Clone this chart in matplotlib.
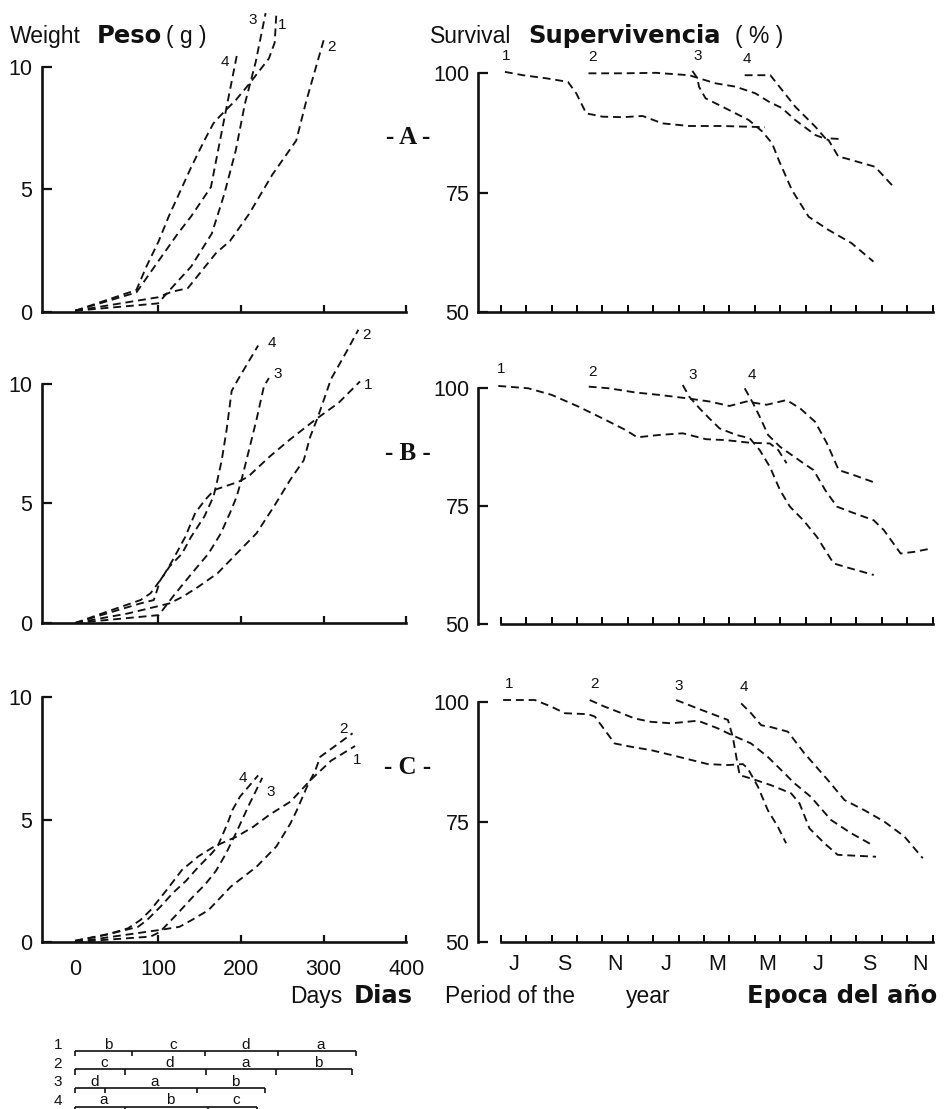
import matplotlib
matplotlib.use("Agg")
import matplotlib.pyplot as plt

plt.rcParams['font.family'] = ['Liberation Sans', 'DejaVu Sans']

# ---------------- data ----------------
# Weight (g) vs days, panels A, B, C, cohorts 1-4
wA_days = {1: [0, 74, 86, 101, 113, 140, 156, 167, 175, 194, 210, 234, 241, 243],
           2: [0, 100, 117, 136, 151, 170, 187, 210, 238, 267, 279, 301],
           3: [0, 100, 117, 140, 165, 180, 194, 205, 218, 230],
           4: [0, 74, 101, 124, 140, 164, 179, 196]}
wA_vals = {1: [0.05, 0.9, 1.85, 2.9, 3.9, 5.9, 7.0, 7.7, 8.0, 8.65, 9.3, 10.35, 11.0, 12.2],
           2: [0.05, 0.6, 0.83, 0.97, 1.6, 2.4, 2.9, 4.0, 5.6, 7.0, 8.6, 11.2],
           3: [0.05, 0.35, 1.0, 1.85, 3.2, 4.8, 6.6, 8.5, 10.2, 12.2],
           4: [0.05, 0.8, 2.1, 3.2, 3.9, 5.1, 7.7, 10.6]}

wB_days = {1: [0, 44, 79, 91, 106, 118, 133, 145, 157, 168, 197, 209, 235, 259, 290, 318, 344],
           2: [0, 64, 114, 130, 149, 172, 195, 219, 240, 260, 276, 284, 293, 309, 327, 342],
           3: [0, 101, 118, 141, 161, 176, 187, 195, 201, 209, 219, 228, 234],
           4: [0, 45, 79, 95, 103, 114, 129, 140, 156, 167, 171, 177, 183, 189, 197, 209, 221]}
wB_vals = {1: [0.0, 0.54, 0.96, 1.24, 1.94, 2.64, 3.6, 4.6, 5.15, 5.56, 5.9, 6.12, 6.96, 7.66, 8.5, 9.2, 10.1],
           2: [0.0, 0.4, 0.82, 1.1, 1.52, 2.08, 2.9, 3.75, 4.87, 6.0, 6.8, 7.8, 8.6, 10.2, 11.3, 12.26],
           3: [0.0, 0.33, 1.1, 2.08, 2.9, 3.75, 4.6, 5.28, 6.0, 7.1, 8.5, 9.9, 10.24],
           4: [0.0, 0.47, 0.82, 0.96, 1.8, 2.36, 2.9, 3.6, 4.45, 5.28, 5.85, 6.8, 8.1, 9.7, 10.2, 10.9, 11.6]}

wC_days = {1: [0, 37, 64, 79, 91, 110, 129, 149, 168, 195, 215, 235, 260, 284, 309, 338],
           2: [0, 102, 126, 141, 161, 188, 219, 243, 260, 268, 280, 290, 296, 318, 335],
           3: [0, 91, 102, 122, 141, 157, 170, 182, 195, 210, 226],
           4: [0, 45, 76, 87, 103, 118, 134, 149, 165, 172, 184, 190, 199, 221]}
wC_vals = {1: [0.05, 0.29, 0.56, 0.9, 1.3, 2.1, 2.94, 3.5, 3.9, 4.3, 4.7, 5.2, 5.73, 6.6, 7.4, 8.0],
           2: [0.0, 0.49, 0.62, 0.9, 1.3, 2.26, 3.07, 3.9, 4.84, 5.4, 6.34, 7.0, 7.56, 8.1, 8.52],
           3: [0.0, 0.22, 0.4, 1.1, 1.8, 2.35, 2.9, 3.6, 4.5, 5.6, 6.7],
           4: [0.05, 0.36, 0.62, 0.9, 1.44, 2.0, 2.5, 3.07, 3.62, 3.9, 4.84, 5.39, 5.93, 6.8]}

# Survival (%) vs month index (0 = start of July), panels A, B, C
sA_month = {1: [0.16, 0.87, 1.79, 2.64, 2.97, 3.36, 4.01, 4.8, 5.58, 6.36, 7.41, 8.7, 10.4],
            2: [3.45, 4.8, 6.1, 7.41, 8.45, 9.24, 10.02, 10.55, 11.07, 11.59, 12.38, 12.9, 13.29, 13.55, 14.73, 15.51],
            3: [7.54, 7.74, 7.8, 8.06, 8.72, 9.76, 10.29, 10.68, 10.94, 11.46, 12.12, 12.9, 13.8, 14.67],
            4: [9.6, 10.61, 11.07, 11.59, 12.38, 12.77, 13.42]}
sA_vals = {1: [100.3, 99.6, 98.95, 98.2, 95.8, 91.6, 90.9, 90.8, 91.05, 89.5, 88.95, 88.95, 88.7],
           2: [100, 100, 100.1, 99.6, 97.9, 97.2, 95.8, 94.05, 92.7, 90.2, 87.06, 86.0, 82.5, 82.2, 80.4, 75.9],
           3: [100.5, 98.95, 97.2, 94.75, 93.0, 90.2, 87.8, 85.3, 81.8, 75.5, 69.9, 67.15, 64.4, 60.5],
           4: [99.6, 99.6, 96.5, 93.0, 88.8, 86.4, 86.2]}

sB_month = {1: [-0.1, 1.08, 2.0, 3.06, 4.12, 4.91, 5.37, 6.23, 7.16, 8.08, 8.87, 9.8, 10.59, 10.92, 11.25],
            2: [3.46, 4.25, 5.31, 6.23, 7.29, 8.21, 9.0, 9.67, 10.46, 11.25, 11.78, 12.37, 12.84, 13.3, 13.89, 14.82],
            3: [7.16, 7.42, 7.82, 8.21, 8.61, 9.27, 9.8, 10.19, 10.59, 10.99, 11.38, 11.91, 12.44, 13.1, 13.76, 14.68],
            4: [9.6, 9.93, 10.19, 10.52, 10.99, 11.91, 12.31, 12.77, 13.23, 13.76, 14.68, 15.08, 15.74, 16.27, 16.93]}
sB_vals = {1: [100.5, 100, 98.6, 96.1, 93.3, 91.15, 89.6, 90.1, 90.45, 89.2, 89.0, 88.45, 88.3, 86.9, 84.1],
           2: [100.35, 100, 99.1, 98.6, 97.9, 97.2, 96.25, 97.2, 96.5, 97.5, 95.75, 92.9, 88.3, 82.65, 81.6, 79.8],
           3: [100.7, 98.2, 95.75, 93.6, 91.5, 90.1, 89.4, 86.9, 83.35, 78.4, 74.9, 72.0, 68.5, 62.85, 61.8, 60.4],
           4: [100, 96.8, 94.0, 90.1, 87.6, 84.1, 82.65, 78.4, 74.9, 73.8, 72.0, 69.9, 64.95, 65.3, 66.0]}

sC_month = {1: [0.09, 1.34, 1.99, 2.52, 3.43, 3.7, 4.09, 4.48, 5.14, 5.92, 6.71, 7.5, 8.15, 8.94, 9.53, 9.72, 10.12, 10.51, 10.9, 11.23],
            2: [3.5, 4.09, 4.61, 5.27, 5.92, 6.71, 7.76, 8.54, 9.07, 9.85, 10.51, 11.03, 11.56, 12.2, 13.0, 13.79, 14.64],
            3: [6.9, 7.89, 8.94, 9.13, 9.27, 9.4, 9.85, 10.64, 11.43, 11.76, 12.15, 12.74, 13.26, 14.77],
            4: [9.46, 9.85, 10.25, 10.64, 11.3, 11.95, 12.87, 13.53, 14.31, 15.1, 15.89, 16.61]}
sC_vals = {1: [100.35, 100.35, 98.96, 97.6, 97.4, 96.9, 94.1, 91.3, 90.6, 89.9, 88.9, 87.85, 87.0, 86.8, 87.0, 86.1, 82.3, 77.4, 74.0, 70.5],
           2: [100.35, 98.96, 97.9, 96.5, 95.8, 95.5, 96.04, 94.45, 93.1, 91.3, 88.5, 85.8, 83.0, 80.2, 75.35, 72.6, 70.1],
           3: [100.35, 98.3, 96.2, 92.7, 88.5, 84.7, 84.0, 82.6, 80.9, 78.8, 73.6, 70.5, 68.1, 67.7],
           4: [99.65, 97.6, 95.1, 94.7, 93.75, 89.25, 83.7, 79.5, 77.4, 75.0, 71.9, 67.4]}

panel_names = ['A', 'B', 'C']
weight_ticks = [0, 5, 10]
day_ticks = [0, 100, 200, 300, 400]
surv_ticks = [50, 75, 100]
month_labels = ['J', 'S', 'N', 'J', 'M', 'M', 'J', 'S', 'N']

# Season bars per cohort (boundaries in days) and season letters
bar_bounds = [[0, 69, 157, 245, 339], [0, 60, 158, 243, 334], [0, 36, 147, 229], [0, 60, 160, 220]]
bar_seasons = [['b', 'c', 'd', 'a'], ['c', 'd', 'a', 'b'], ['d', 'a', 'b'], ['a', 'b', 'c']]

# ---------------- layout ----------------
W, H = 944, 1109
fig = plt.figure(figsize=(W / 100, H / 100), dpi=100)


def ax_px(x0, y0, x1, y1):
    return fig.add_axes([x0 / W, 1 - y1 / H, (x1 - x0) / W, (y1 - y0) / H])


def ftext(x, y, s, **kw):
    return fig.text(x / W, 1 - y / H, s, **kw)


INK = '#111111'
DASH = (0, (4.2, 2.6))
TICKFS = 15.5
LABFS = 11
TFS = 16.5      # regular title text
BFS = 17.5      # heavy title words

left_rows = [(5.75, 312), (324, 623), (635.75, 942)]
right_rows = [(44.7, 311.7), (360, 624), (672.9, 941.7)]
mid_y = [137, 453, 767]

weight_data = [(wA_days, wA_vals), (wB_days, wB_vals), (wC_days, wC_vals)]
surv_data = [(sA_month, sA_vals), (sB_month, sB_vals), (sC_month, sC_vals)]

wlab_pos = [
    {4: (181, 10.2), 3: (214, 11.9), 1: (250, 11.7), 2: (310, 10.8)},
    {4: (237, 11.7), 3: (245, 10.4), 2: (352, 12.05), 1: (354, 9.96)},
    {2: (324, 8.7), 1: (341, 7.43), 4: (203, 6.68), 3: (236, 6.13)},
]
slab_pos = [
    {1: (0.05, 102.2), 2: (3.45, 101.9), 3: (7.6, 102.2), 4: (9.5, 101.6)},
    {1: (-0.15, 102.6), 2: (3.45, 102.0), 3: (7.4, 101.4), 4: (9.7, 101.4)},
    {1: (0.15, 102.2), 2: (3.5, 102.2), 3: (6.85, 101.9), 4: (9.4, 101.6)},
]


def base_style(ax):
    for s in ['top', 'right']:
        ax.spines[s].set_visible(False)
    for s in ['left', 'bottom']:
        ax.spines[s].set_linewidth(1.9)
        ax.spines[s].set_color(INK)
    ax.patch.set_alpha(0)


for r in range(3):
    # ---- weight panel ----
    y0, y1 = left_rows[r]
    ax = ax_px(42, y0, 406.4, y1)
    base_style(ax)
    days, vals = weight_data[r]
    for k in [1, 2, 3, 4]:
        ax.plot(days[k], vals[k], color=INK, lw=1.35, ls=DASH, clip_on=False)
    for k, (x, y) in wlab_pos[r].items():
        ax.text(x, y, str(k), fontsize=LABFS, ha='center', va='center', color=INK)
    ax.set_xlim(-40, 400)
    ax.set_ylim(0, 12.5)
    ax.spines['left'].set_bounds(0, 10)
    ax.set_yticks(weight_ticks)
    ax.set_yticklabels([str(t) for t in weight_ticks])
    ax.set_xticks(day_ticks)
    if r == 2:
        ax.set_xticklabels([str(t) for t in day_ticks])
    else:
        ax.set_xticklabels([])
    ax.tick_params(axis='y', direction='in', length=7, width=1.6, pad=7,
                   labelsize=TICKFS, colors=INK)
    ax.tick_params(axis='x', direction='in', length=5, width=1.6, pad=12,
                   labelsize=TICKFS, colors=INK)
    ax.xaxis.get_major_ticks()[0].tick1line.set_visible(False)

    # ---- survival panel ----
    y0, y1 = right_rows[r]
    ax = ax_px(478, y0, 935.2, y1)
    base_style(ax)
    months, svals = surv_data[r]
    for k in [1, 2, 3, 4]:
        ax.plot(months[k], svals[k], color=INK, lw=1.35, ls=DASH, clip_on=False)
    for k, (x, y) in slab_pos[r].items():
        ax.text(x, y, str(k), fontsize=LABFS, ha='left', va='bottom', color=INK)
    ax.set_xlim(-0.9, 17.1)
    ax.set_ylim(50, 106)
    ax.spines['left'].set_bounds(50, 100)
    ax.spines['bottom'].set_bounds(-0.9 if r == 0 else 0, 17)
    ax.set_yticks(surv_ticks)
    ax.set_yticklabels([str(t) for t in surv_ticks])
    ax.set_xticks(range(18))
    ax.set_xticklabels([])
    ax.set_xticks([0.5 + 2 * i for i in range(len(month_labels))], minor=True)
    if r == 2:
        ax.set_xticklabels(month_labels, minor=True)
    ax.tick_params(axis='y', direction='in', length=7, width=1.6, pad=6,
                   labelsize=TICKFS, colors=INK)
    ax.tick_params(axis='x', which='major', direction='in', length=5, width=1.4)
    ax.tick_params(axis='x', which='minor', length=0, pad=9, labelsize=TICKFS, colors=INK)

    # panel letter
    ftext(408, mid_y[r], '- ' + panel_names[r] + ' -', ha='center', va='center',
          family='Liberation Serif', weight='bold', fontsize=18, color=INK)

# ---------------- titles ----------------
ftext(10, 43, 'Weight', fontsize=TFS, va='baseline', color=INK)
ftext(97, 43, 'Peso', fontsize=BFS, va='baseline', family='DejaVu Sans', weight='heavy', color=INK)
ftext(166, 43, '( g )', fontsize=TFS, va='baseline', color=INK)
ftext(430, 43, 'Survival', fontsize=TFS, va='baseline', color=INK)
ftext(528, 43, 'Supervivencia', fontsize=BFS, va='baseline', family='DejaVu Sans', weight='heavy', color=INK)
ftext(735, 43, '( % )', fontsize=TFS, va='baseline', color=INK)

ftext(290, 1003, 'Days', fontsize=TFS, va='baseline', color=INK)
ftext(354, 1003, 'Dias', fontsize=BFS, va='baseline', family='DejaVu Sans', weight='heavy', color=INK)
ftext(445, 1003, 'Period of the', fontsize=TFS, va='baseline', color=INK)
ftext(626, 1003, 'year', fontsize=TFS, va='baseline', color=INK)
ftext(937, 1003, 'Epoca del año', fontsize=BFS, va='baseline', ha='right',
      family='DejaVu Sans', weight='heavy', color=INK)

# ---------------- season bars ----------------
bax = ax_px(42, 1036, 406.4, 1109)
bax.set_xlim(-40, 400)
bax.set_ylim(3.135, -0.81)
bax.axis('off')
for i, (bounds, seas) in enumerate(zip(bar_bounds, bar_seasons)):
    bax.hlines(i, bounds[0], bounds[-1], color=INK, lw=1.2)
    bax.vlines(bounds, i, i + 0.28, color=INK, lw=1.2)
    for a, b, s in zip(bounds[:-1], bounds[1:], seas):
        bax.text((a + b) / 2 + 5, i - 0.12, s, fontsize=11, ha='center', va='baseline', color=INK)
    bax.text(-21, i - 0.1, str(i + 1), fontsize=11, ha='center', va='baseline', color=INK)

fig.savefig('out.png', dpi=100)
